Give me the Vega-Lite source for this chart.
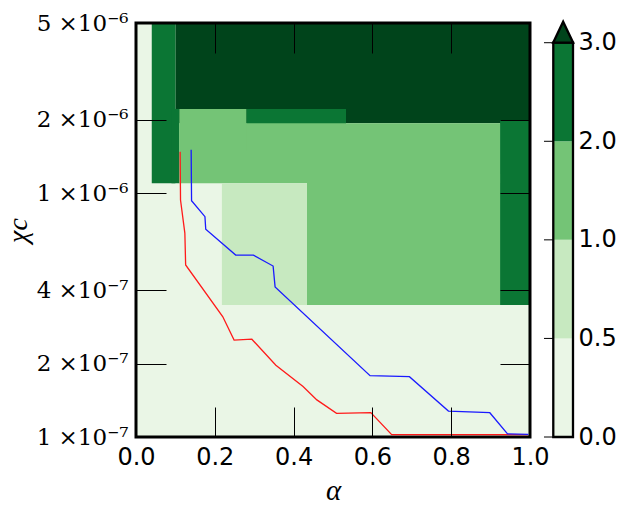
{
  "$schema": "https://vega.github.io/schema/vega-lite/v6.json",
  "width": 437,
  "height": 414,
  "autosize": {"type": "none"},
  "padding": {"left": 136, "top": 23, "right": 51, "bottom": 69},
  "background": "white",
  "config": {"view": {"stroke": null}, "axis": {"grid": false}},
  "datasets": {
    "cells": [
      {"x0": 0, "x1": 1, "y0": 1e-7, "y1": 5e-6, "v": 0.25},
      {"x0": 0.1, "x1": 1, "y0": 1.94e-6, "y1": 5e-6, "v": 3.5},
      {"x0": 0.04, "x1": 0.1, "y0": 1.1e-6, "y1": 5e-6, "v": 2.5},
      {"x0": 0.09, "x1": 0.11, "y0": 1.1e-6, "y1": 2.22e-6, "v": 2.5},
      {"x0": 0.28, "x1": 0.533, "y0": 1.8e-6, "y1": 2.22e-6, "v": 2.5},
      {"x0": 0.924, "x1": 1, "y0": 3.48e-7, "y1": 2.0e-6, "v": 2.5},
      {"x0": 0.11, "x1": 0.924, "y0": 1.1e-6, "y1": 1.94e-6, "v": 1.5},
      {"x0": 0.11, "x1": 0.28, "y0": 1.5e-6, "y1": 2.22e-6, "v": 1.5},
      {"x0": 0.434, "x1": 0.924, "y0": 3.48e-7, "y1": 1.2e-6, "v": 1.5},
      {"x0": 0.218, "x1": 0.434, "y0": 3.48e-7, "y1": 1.1e-6, "v": 0.75}
    ],
    "lines": [
      {"s": "red", "i": 0, "a": 0.112, "chi": 1.48e-6},
      {"s": "red", "i": 1, "a": 0.113, "chi": 9.39e-7},
      {"s": "red", "i": 2, "a": 0.124, "chi": 6.87e-7},
      {"s": "red", "i": 3, "a": 0.126, "chi": 5.08e-7},
      {"s": "red", "i": 4, "a": 0.220, "chi": 3.12e-7},
      {"s": "red", "i": 5, "a": 0.249, "chi": 2.50e-7},
      {"s": "red", "i": 6, "a": 0.294, "chi": 2.52e-7},
      {"s": "red", "i": 7, "a": 0.355, "chi": 1.97e-7},
      {"s": "red", "i": 8, "a": 0.424, "chi": 1.61e-7},
      {"s": "red", "i": 9, "a": 0.459, "chi": 1.42e-7},
      {"s": "red", "i": 10, "a": 0.509, "chi": 1.25e-7},
      {"s": "red", "i": 11, "a": 0.596, "chi": 1.26e-7},
      {"s": "red", "i": 12, "a": 0.649, "chi": 1.022e-7},
      {"s": "red", "i": 13, "a": 0.995, "chi": 1.022e-7},
      {"s": "blue", "i": 0, "a": 0.140, "chi": 1.51e-6},
      {"s": "blue", "i": 1, "a": 0.141, "chi": 9.32e-7},
      {"s": "blue", "i": 2, "a": 0.175, "chi": 8.02e-7},
      {"s": "blue", "i": 3, "a": 0.177, "chi": 7.12e-7},
      {"s": "blue", "i": 4, "a": 0.253, "chi": 5.58e-7},
      {"s": "blue", "i": 5, "a": 0.298, "chi": 5.58e-7},
      {"s": "blue", "i": 6, "a": 0.348, "chi": 5.03e-7},
      {"s": "blue", "i": 7, "a": 0.353, "chi": 4.13e-7},
      {"s": "blue", "i": 8, "a": 0.594, "chi": 1.785e-7},
      {"s": "blue", "i": 9, "a": 0.694, "chi": 1.768e-7},
      {"s": "blue", "i": 10, "a": 0.793, "chi": 1.278e-7},
      {"s": "blue", "i": 11, "a": 0.898, "chi": 1.258e-7},
      {"s": "blue", "i": 12, "a": 0.943, "chi": 1.03e-7},
      {"s": "blue", "i": 13, "a": 0.996, "chi": 1.025e-7}
    ],
    "cbar": [
      {"lo": 0, "hi": 1, "v": 0.25},
      {"lo": 1, "hi": 2, "v": 0.75},
      {"lo": 2, "hi": 3, "v": 1.5},
      {"lo": 3, "hi": 4, "v": 2.5}
    ],
    "cticks": [{"t": 0}, {"t": 1}, {"t": 2}, {"t": 3}, {"t": 4}]
  },
  "layer": [
    {
      "data": {"name": "cells"},
      "mark": {"type": "rect"},
      "encoding": {
        "x": {
          "field": "x0", "type": "quantitative",
          "scale": {"domain": [0, 1.10914], "nice": false, "zero": false},
          "axis": {
            "orient": "bottom", "offset": -30, "tickSize": 30, "tickColor": "black", "tickWidth": 1,
            "domain": false, "values": [0, 0.2, 0.4, 0.6, 0.8, 1], "format": ".1f",
            "labelFont": "DejaVu Sans", "labelFontSize": 24, "labelColor": "black", "labelPadding": 8,
            "labelFlush": false, "labelOverlap": false, "labelBound": false,
            "title": "α", "titleFont": "Liberation Serif", "titleFontStyle": "italic", "titleFontWeight": "normal",
            "titleFontSize": 29, "titleColor": "black", "titleBaseline": "alphabetic", "titleX": 197, "titleY": 92,
            "zindex": 1
          }
        },
        "x2": {"field": "x1"},
        "y": {
          "field": "y0", "type": "quantitative",
          "scale": {"type": "log", "domain": [1e-7, 5e-6], "nice": false},
          "axis": {
            "orient": "left", "offset": -30, "tickSize": 30, "tickColor": "black", "tickWidth": 1,
            "domain": false, "values": [1e-7, 2e-7, 4e-7, 1e-6, 2e-6, 5e-6],
            "labelExpr": "datum.value < 1.5e-7 ? '1 ×10⁻⁷' : datum.value < 3e-7 ? '2 ×10⁻⁷' : datum.value < 7e-7 ? '4 ×10⁻⁷' : datum.value < 1.5e-6 ? '1 ×10⁻⁶' : datum.value < 3e-6 ? '2 ×10⁻⁶' : '5 ×10⁻⁶'",
            "labelFont": "DejaVu Serif", "labelFontSize": 23, "labelColor": "black", "labelPadding": 8,
            "labelFlush": false, "labelOverlap": false, "labelBound": false,
            "title": "χc", "titleFont": "Liberation Serif", "titleFontStyle": "italic", "titleFontWeight": "normal",
            "titleFontSize": 28, "titleColor": "black", "titleBaseline": "alphabetic", "titleAngle": 270,
            "titleX": -140, "titleY": 207, "titleAlign": "center",
            "zindex": 1
          }
        },
        "y2": {"field": "y1"},
        "color": {
          "field": "v", "type": "quantitative",
          "scale": {"type": "threshold", "domain": [0.5, 1, 2, 3], "range": ["#eaf6e6", "#c7e9c0", "#74c476", "#0b7634", "#00441b"]},
          "legend": null
        }
      }
    },
    {
      "data": {"values": [{}]},
      "mark": {"type": "rect", "filled": false, "stroke": "black", "strokeWidth": 3},
      "encoding": {
        "x": {"datum": 0, "type": "quantitative", "scale": {"domain": [0, 1.10914], "nice": false, "zero": false}, "axis": null},
        "x2": {"datum": 1},
        "y": {"datum": 1e-7, "type": "quantitative", "scale": {"type": "log", "domain": [1e-7, 5e-6], "nice": false}, "axis": null},
        "y2": {"datum": 5e-6}
      }
    },
    {
      "data": {"name": "lines"},
      "mark": {"type": "line", "strokeWidth": 1.3},
      "encoding": {
        "x": {
          "field": "a", "type": "quantitative",
          "scale": {"domain": [0, 1.10914], "nice": false, "zero": false},
          "axis": {
            "orient": "top", "offset": -30, "tickSize": 30, "tickColor": "black", "tickWidth": 1,
            "values": [0.2, 0.4, 0.6, 0.8], "labels": false, "domain": false, "title": null, "zindex": 1
          }
        },
        "y": {
          "field": "chi", "type": "quantitative",
          "scale": {"type": "log", "domain": [1e-7, 5e-6], "nice": false},
          "axis": {
            "orient": "right", "offset": -73, "tickSize": 30, "tickColor": "black", "tickWidth": 1,
            "values": [2e-7, 4e-7, 1e-6, 2e-6], "labels": false, "domain": false, "title": null, "zindex": 1
          }
        },
        "stroke": {
          "field": "s", "type": "nominal",
          "scale": {"domain": ["red", "blue"], "range": ["#ff1a1a", "#1a1aff"]},
          "legend": null
        },
        "order": {"field": "i", "type": "quantitative"}
      }
    },
    {
      "data": {"name": "cbar"},
      "mark": {"type": "rect"},
      "encoding": {
        "x": {"datum": 1.0591, "type": "quantitative", "scale": {"domain": [0, 1.10914], "nice": false, "zero": false}, "axis": null},
        "x2": {"datum": 1.10914},
        "y": {
          "field": "lo", "type": "quantitative",
          "scale": {"domain": [0, 4.2], "nice": false, "zero": false},
          "axis": {
            "orient": "right", "values": [0, 1, 2, 3, 4],
            "labelExpr": "['0.0','0.5','1.0','2.0','3.0'][datum.value]",
            "ticks": false, "tickSize": 0, "domain": false, "labelPadding": 5,
            "labelFont": "DejaVu Sans", "labelFontSize": 24, "labelColor": "black",
            "labelFlush": false, "labelOverlap": false, "labelBound": false, "title": null
          }
        },
        "y2": {"field": "hi"},
        "color": {
          "field": "v", "type": "quantitative",
          "scale": {"type": "threshold", "domain": [0.5, 1, 2, 3], "range": ["#eaf6e6", "#c7e9c0", "#74c476", "#0b7634", "#00441b"]},
          "legend": null
        }
      }
    },
    {
      "data": {"values": [{}]},
      "mark": {"type": "rect", "filled": false, "stroke": "black", "strokeWidth": 2.3},
      "encoding": {
        "x": {"datum": 1.0591, "type": "quantitative", "scale": {"domain": [0, 1.10914], "nice": false, "zero": false}, "axis": null},
        "x2": {"datum": 1.10914},
        "y": {"datum": 0, "type": "quantitative", "scale": {"domain": [0, 4.2], "nice": false, "zero": false}, "axis": null},
        "y2": {"datum": 4}
      }
    },
    {
      "data": {"values": [{}]},
      "mark": {"type": "point", "shape": "M-1,1L0,-1.1L1,1Z", "size": 400, "filled": true, "fill": "#00441b", "stroke": "black", "strokeWidth": 2.3, "opacity": 1},
      "encoding": {
        "x": {"datum": 1.0841, "type": "quantitative", "scale": {"domain": [0, 1.10914], "nice": false, "zero": false}, "axis": null},
        "y": {"datum": 4.1015, "type": "quantitative", "scale": {"domain": [0, 4.2], "nice": false, "zero": false}, "axis": null}
      }
    },
    {
      "data": {"name": "cticks"},
      "mark": {"type": "rule", "stroke": "black", "strokeWidth": 1},
      "encoding": {
        "x": {"datum": 1.0355, "type": "quantitative", "scale": {"domain": [0, 1.10914], "nice": false, "zero": false}, "axis": null},
        "x2": {"datum": 1.0591},
        "y": {"field": "t", "type": "quantitative", "scale": {"domain": [0, 4.2], "nice": false, "zero": false}, "axis": null}
      }
    }
  ],
  "resolve": {
    "scale": {"y": "independent", "stroke": "independent"},
    "axis": {"x": "independent", "y": "independent"}
  }
}
